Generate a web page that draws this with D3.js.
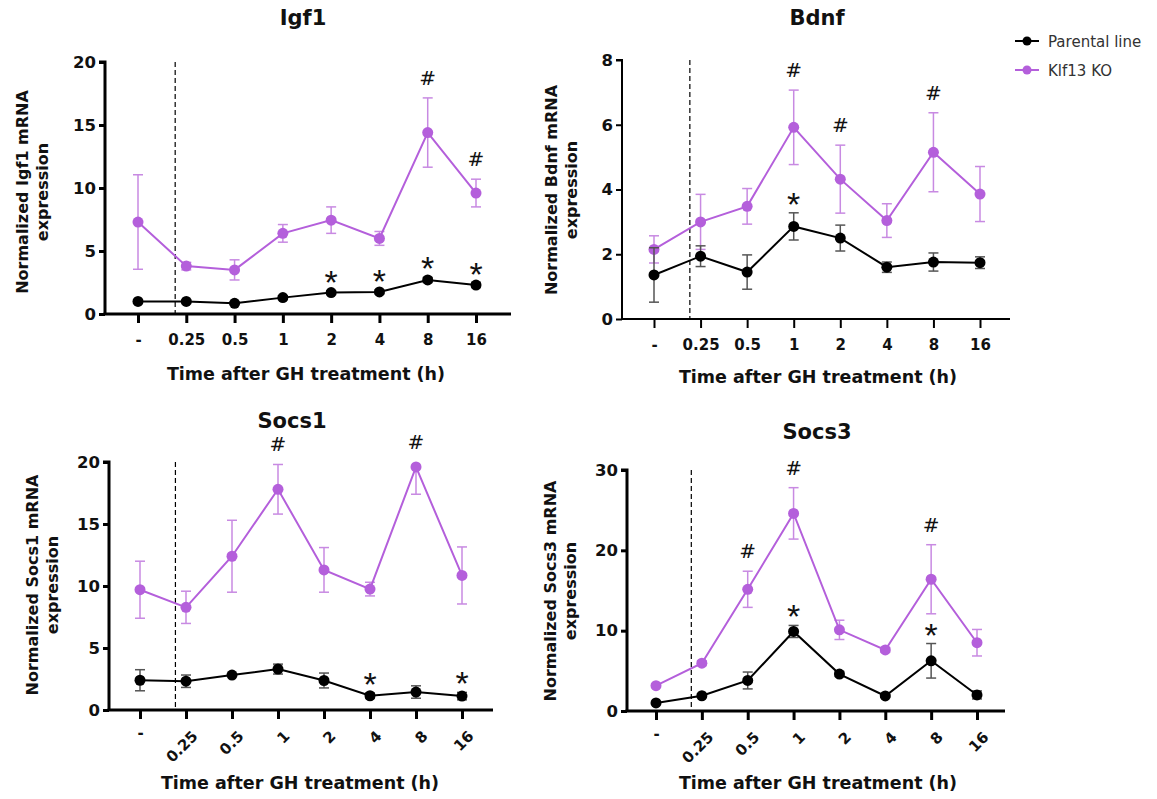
<!DOCTYPE html>
<html>
<head>
  <meta charset="utf-8">
  <title>GH time course, parental vs Klf13 KO</title>
  <script src="https://cdn.jsdelivr.net/npm/d3@7"></script>
  <style>
    body { margin: 0; background: #fff; }
    svg text { font-family: "DejaVu Sans", sans-serif; }
  </style>
</head>
<body>
  <svg id="chart" width="1157" height="799"></svg>
  <script>
    // tick labels shared by all panels
    const timeLabels = ["-", "0.25", "0.5", "1", "2", "4", "8", "16"];

    // Igf1
    const igf1Parental = [1.0, 1.0, 0.85, 1.3, 1.7, 1.75, 2.7, 2.3];
    const igf1ParentalErr = [0.1, 0.1, 0.1, 0.15, 0.15, 0.15, 0.2, 0.2];
    const igf1Ko = [7.3, 3.8, 3.5, 6.4, 7.45, 6.0, 14.4, 9.6];
    const igf1KoErr = [3.75, 0.3, 0.8, 0.7, 1.05, 0.55, 2.75, 1.1];

    // Bdnf
    const bdnfParental = [1.36, 1.94, 1.45, 2.86, 2.5, 1.6, 1.76, 1.74];
    const bdnfParentalErr = [0.84, 0.32, 0.53, 0.42, 0.4, 0.16, 0.28, 0.18];
    const bdnfKo = [2.15, 3.0, 3.48, 5.92, 4.32, 3.04, 5.15, 3.86];
    const bdnfKoErr = [0.42, 0.85, 0.55, 1.15, 1.05, 0.52, 1.22, 0.85];

    // Socs1
    const socs1Parental = [2.4, 2.32, 2.82, 3.3, 2.38, 1.15, 1.45, 1.12];
    const socs1ParentalErr = [0.85, 0.5, 0.1, 0.4, 0.6, 0.22, 0.5, 0.3];
    const socs1Ko = [9.7, 8.28, 12.4, 17.8, 11.3, 9.75, 19.6, 10.85];
    const socs1KoErr = [2.3, 1.3, 2.9, 2.0, 1.8, 0.55, 2.2, 2.3];

    // Socs3
    const socs3Parental = [1.0, 1.9, 3.8, 9.9, 4.6, 1.87, 6.25, 2.0];
    const socs3ParentalErr = [0.1, 0.2, 1.05, 0.75, 0.3, 0.15, 2.15, 0.5];
    const socs3Ko = [3.15, 5.95, 15.15, 24.6, 10.1, 7.6, 16.4, 8.5];
    const socs3KoErr = [0.2, 0.3, 2.25, 3.2, 1.2, 0.3, 4.3, 1.65];

    // significance marks: indices into timeLabels
    const igf1Stars = [4, 5, 6, 7], igf1Hash = [6, 7];
    const bdnfStars = [3], bdnfHash = [3, 4, 6];
    const socs1Stars = [5, 7], socs1Hash = [3, 6];
    const socs3Stars = [3, 6], socs3Hash = [2, 3, 6];

    const seriesNames = ["Parental line", "Klf13 KO"];

    const purple = "#b45fdb";
    const purpleErr = "#c88ae2";
    const black = "#000";
    const blackErr = "#555";

    const svg = d3.select("#chart");

    function drawPanel(p) {
      const g = svg.append("g");
      const x = d3.scalePoint().domain(timeLabels).range([p.x0, p.x1]);
      const y = d3.scaleLinear().domain([0, p.yMax]).range([p.yBottom, p.yTop]);

      // title
      g.append("text")
        .attr("x", p.titleX).attr("y", p.titleY)
        .attr("text-anchor", "middle")
        .attr("font-size", 21).attr("font-weight", "bold").attr("fill", "#111")
        .text(p.gene);

      // y axis
      const yAx = g.append("g")
        .attr("transform", `translate(${p.axisX},0)`)
        .call(d3.axisLeft(y).ticks(p.yTicks).tickSize(6).tickPadding(3));
      // x axis
      const xAx = g.append("g")
        .attr("transform", `translate(0,${p.yBottom})`)
        .call(d3.axisBottom(x).tickSize(9).tickPadding(p.rotate ? 10 : 11));

      [yAx, xAx].forEach(a => {
        a.attr("font-family", null).attr("font-size", null);
        a.select(".domain").attr("stroke", "#000").attr("stroke-width", p.axisW);
        a.selectAll(".tick line").attr("stroke", "#000").attr("stroke-width", p.axisW);
        a.selectAll(".tick text").attr("fill", "#111").attr("font-weight", "bold");
      });
      yAx.selectAll(".tick text").attr("font-size", 16.5);
      xAx.selectAll(".tick text").attr("font-size", 15);
      // extend x axis line
      xAx.select(".domain").attr("d", `M${p.axisX - p.axisW / 2},0H${p.xEnd}`);
      yAx.select(".domain").attr("d", `M-6,${p.yTop}H0V${p.yBottom}`);

      if (p.rotate) {
        xAx.selectAll(".tick text")
          .attr("text-anchor", "end")
          .attr("dy", "0.35em")
          .attr("transform", "translate(-5,10) rotate(-45)");
        xAx.selectAll(".tick text").filter(d => d === "-")
          .attr("text-anchor", "middle").attr("transform", "translate(0,4)");
      }

      // dashed separator between baseline and treated
      const dashX = x("-") + (x("0.25") - x("-")) * 0.77;
      g.append("line")
        .attr("x1", dashX).attr("x2", dashX)
        .attr("y1", p.yTop).attr("y2", p.yBottom)
        .attr("stroke", "#000").attr("stroke-width", 1.2)
        .attr("stroke-dasharray", "5,3");

      // axis titles
      g.append("text")
        .attr("transform", `translate(${p.yTitleX},${p.yTitleY}) rotate(-90)`)
        .attr("text-anchor", "middle")
        .attr("font-size", 16).attr("font-weight", "bold").attr("fill", "#111")
        .text(`Normalized ${p.gene} mRNA`);
      g.append("text")
        .attr("transform", `translate(${p.yTitleX + 20},${p.yTitleY}) rotate(-90)`)
        .attr("text-anchor", "middle")
        .attr("font-size", 16).attr("font-weight", "bold").attr("fill", "#111")
        .text("expression");
      g.append("text")
        .attr("x", p.xTitleX).attr("y", p.xTitleY)
        .attr("text-anchor", "middle")
        .attr("font-size", 17.5).attr("font-weight", "bold").attr("fill", "#111")
        .text("Time after GH treatment (h)");

      const yMaxPx = y(p.yMax);
      const series = [
        { vals: p.ko, err: p.koErr, color: purple, errColor: purpleErr },
        { vals: p.par, err: p.parErr, color: black, errColor: blackErr }
      ];

      series.forEach(s => {
        const rows = timeLabels.map((t, i) => ({ t, v: s.vals[i], e: s.err[i] }));
        const eg = g.append("g");
        rows.forEach(r => {
          const top = Math.max(y(r.v + r.e), yMaxPx);
          const bot = y(Math.max(0, r.v - r.e));
          const cx = x(r.t);
          eg.append("line").attr("x1", cx).attr("x2", cx).attr("y1", top).attr("y2", bot)
            .attr("stroke", s.errColor).attr("stroke-width", 1.5);
          if (y(r.v + r.e) >= yMaxPx) {
            eg.append("line").attr("x1", cx - 5).attr("x2", cx + 5).attr("y1", top).attr("y2", top)
              .attr("stroke", s.errColor).attr("stroke-width", 1.5);
          }
          eg.append("line").attr("x1", cx - 5).attr("x2", cx + 5).attr("y1", bot).attr("y2", bot)
            .attr("stroke", s.errColor).attr("stroke-width", 1.5);
        });
        g.append("path")
          .datum(rows)
          .attr("fill", "none").attr("stroke", s.color).attr("stroke-width", 2)
          .attr("d", d3.line().x(d => x(d.t)).y(d => y(d.v)));
        g.selectAll(null).data(rows).join("circle")
          .attr("cx", d => x(d.t)).attr("cy", d => y(d.v)).attr("r", 5.5)
          .attr("fill", s.color);
      });

      // significance marks
      p.hash.forEach(i => {
        const top = Math.max(y(p.ko[i] + p.koErr[i]), yMaxPx);
        g.append("text")
          .attr("x", x(timeLabels[i])).attr("y", top - 13)
          .attr("text-anchor", "middle").attr("font-size", 20).attr("fill", "#111")
          .text("#");
      });
      p.stars.forEach(i => {
        const top = y(p.par[i] + p.parErr[i]);
        g.append("text")
          .attr("x", x(timeLabels[i])).attr("y", top + 3)
          .attr("text-anchor", "middle").attr("font-size", 34).attr("fill", "#111")
          .style("font-family", "'Liberation Sans', Arial, sans-serif")
          .text("*");
      });
    }

    drawPanel({
      gene: "Igf1", par: igf1Parental, parErr: igf1ParentalErr, ko: igf1Ko, koErr: igf1KoErr,
      stars: igf1Stars, hash: igf1Hash, yMax: 20, yTicks: 4,
      axisX: 105, x0: 138, x1: 476, xEnd: 511, yTop: 62, yBottom: 314, axisW: 3,
      titleX: 303, titleY: 25, xTitleX: 306, xTitleY: 380, yTitleX: 28, yTitleY: 192, rotate: false
    });
    drawPanel({
      gene: "Bdnf", par: bdnfParental, parErr: bdnfParentalErr, ko: bdnfKo, koErr: bdnfKoErr,
      stars: bdnfStars, hash: bdnfHash, yMax: 8, yTicks: 4,
      axisX: 622, x0: 654, x1: 980, xEnd: 1010, yTop: 60, yBottom: 319, axisW: 2,
      titleX: 817, titleY: 25, xTitleX: 818, xTitleY: 383, yTitleX: 557, yTitleY: 190, rotate: false
    });
    drawPanel({
      gene: "Socs1", par: socs1Parental, parErr: socs1ParentalErr, ko: socs1Ko, koErr: socs1KoErr,
      stars: socs1Stars, hash: socs1Hash, yMax: 20, yTicks: 4,
      axisX: 109, x0: 140, x1: 462, xEnd: 493, yTop: 462, yBottom: 710, axisW: 3,
      titleX: 292, titleY: 428, xTitleX: 300, xTitleY: 789, yTitleX: 38, yTitleY: 585, rotate: true
    });
    drawPanel({
      gene: "Socs3", par: socs3Parental, parErr: socs3ParentalErr, ko: socs3Ko, koErr: socs3KoErr,
      stars: socs3Stars, hash: socs3Hash, yMax: 30, yTicks: 3,
      axisX: 627, x0: 656, x1: 977, xEnd: 1005, yTop: 470, yBottom: 711, axisW: 3,
      titleX: 817, titleY: 439, xTitleX: 818, xTitleY: 789, yTitleX: 556, yTitleY: 591, rotate: true
    });

    // legend
    const legend = svg.append("g").attr("transform", "translate(1015,41)");
    [black, purple].forEach((c, i) => {
      const row = legend.append("g").attr("transform", `translate(0,${i * 29})`);
      row.append("line").attr("x1", 0).attr("x2", 24).attr("stroke", c).attr("stroke-width", 2);
      row.append("circle").attr("cx", 12).attr("r", 4.5).attr("fill", c);
      row.append("text").attr("x", 33).attr("y", 5.5)
        .attr("font-size", 15).attr("fill", "#333").text(seriesNames[i]);
    });
  </script>
</body>
</html>
